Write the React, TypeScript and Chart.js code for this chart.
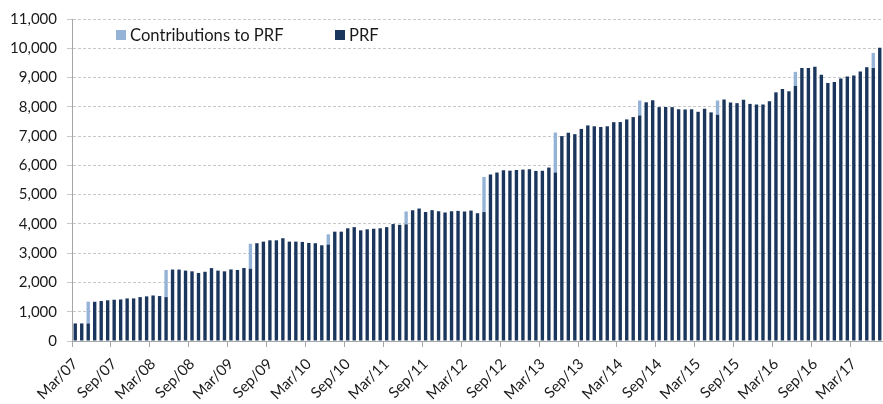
import React, { useEffect, useRef } from "react";
import { Chart, registerables } from "chart.js";

Chart.register(...registerables);

const MONTH_NAMES = ["Jan", "Feb", "Mar", "Apr", "May", "Jun", "Jul", "Aug", "Sep", "Oct", "Nov", "Dec"];
const START_MONTH = 2; // March
const START_YEAR = 7; // 2007
const MONTH_COUNT = 125; // Mar/07 .. Jul/17

const categories: string[] = [];
for (let i = 0; i < MONTH_COUNT; i++) {
  const m = (START_MONTH + i) % 12;
  const y = START_YEAR + Math.floor((START_MONTH + i) / 12);
  categories.push(`${MONTH_NAMES[m]}/${String(y).padStart(2, "0")}`);
}

const tickLabels = [
  "Mar/07", "Sep/07", "Mar/08", "Sep/08", "Mar/09", "Sep/09", "Mar/10", "Sep/10",
  "Mar/11", "Sep/11", "Mar/12", "Sep/12", "Mar/13", "Sep/13", "Mar/14", "Sep/14",
  "Mar/15", "Sep/15", "Mar/16", "Sep/16", "Mar/17",
];

const yTickLabels = ["0", "1,000", "2,000", "3,000", "4,000", "5,000", "6,000", "7,000", "8,000", "9,000", "10,000", "11,000"];

// PRF (US$ m), monthly
const prf = [
  600, 600, 600, 1340, 1365, 1390, 1410, 1420, 1455, 1455, 1500, 1525,
  1555, 1535, 1500, 2440, 2440, 2405, 2380, 2325, 2365, 2490, 2405, 2380,
  2445, 2425, 2495, 2470, 3340, 3395, 3440, 3440, 3510, 3395, 3395, 3385,
  3350, 3340, 3270, 3295, 3735, 3735, 3850, 3890, 3780, 3815, 3835, 3850,
  3890, 3995, 3970, 3985, 4470, 4525, 4410, 4470, 4435, 4390, 4435, 4445,
  4425, 4455, 4365, 4405, 5685, 5755, 5830, 5820, 5845, 5855, 5865, 5810,
  5820, 5925, 5755, 7000, 7115, 7065, 7245, 7365, 7335, 7310, 7335, 7475,
  7480, 7570, 7650, 7705, 8155, 8225, 7990, 7990, 7990, 7920, 7910, 7920,
  7830, 7930, 7810, 7730, 8250, 8145, 8125, 8245, 8100, 8080, 8080, 8190,
  8495, 8610, 8530, 8710, 9330, 9330, 9365, 9095, 8810, 8845, 8970, 9035,
  9070, 9205, 9355, 9330, 10020,
];

// Contributions to PRF, stacked on top in the contribution month
const contributions = [
  0, 0, 745, 0, 0, 0, 0, 0, 0, 0, 0, 0,
  0, 0, 925, 0, 0, 0, 0, 0, 0, 0, 0, 0,
  0, 0, 0, 850, 0, 0, 0, 0, 0, 0, 0, 0,
  0, 0, 0, 350, 0, 0, 0, 0, 0, 0, 0, 0,
  0, 0, 0, 440, 0, 0, 0, 0, 0, 0, 0, 0,
  0, 0, 0, 1200, 0, 0, 0, 0, 0, 0, 0, 0,
  0, 0, 1365, 0, 0, 0, 0, 0, 0, 0, 0, 0,
  0, 0, 0, 510, 0, 0, 0, 0, 0, 0, 0, 0,
  0, 0, 0, 485, 0, 0, 0, 0, 0, 0, 0, 0,
  0, 0, 0, 485, 0, 0, 0, 0, 0, 0, 0, 0,
  0, 0, 0, 510, 0,
];

const DARK = "#1B365D";
const LIGHT = "#95B3D7";
const FONT = "Lato";

const legendPlugin = {
  id: "customLegend",
  afterDraw(chart: any) {
    const ctx = chart.ctx as CanvasRenderingContext2D;
    const items = [
      { label: "Contributions to PRF", color: LIGHT, x: 116 },
      { label: "PRF", color: DARK, x: 335 },
    ];
    ctx.save();
    ctx.font = `16.6px ${FONT}`;
    ctx.textBaseline = "middle";
    ctx.textAlign = "left";
    for (const it of items) {
      ctx.fillStyle = it.color;
      ctx.fillRect(it.x, 30, 10, 10);
      ctx.fillStyle = "#1a1a1a";
      ctx.fillText(it.label, it.x + 14, 35.5);
    }
    ctx.restore();
  },
};

export default function App() {
  const canvasRef = useRef<HTMLCanvasElement | null>(null);

  useEffect(() => {
    if (!canvasRef.current) return;
    Chart.defaults.font.family = FONT;
    const chart = new Chart(canvasRef.current, {
      type: "bar",
      data: {
        labels: categories,
        datasets: [
          {
            label: "PRF",
            data: prf,
            backgroundColor: DARK,
            barPercentage: 0.52,
            categoryPercentage: 1,
          },
          {
            label: "Contributions to PRF",
            data: contributions,
            backgroundColor: LIGHT,
            barPercentage: 0.52,
            categoryPercentage: 1,
          },
        ],
      },
      options: {
        animation: false,
        responsive: true,
        maintainAspectRatio: false,
        layout: { padding: { top: 14, right: 0, left: 0, bottom: 0 } },
        plugins: {
          legend: { display: false },
          tooltip: { enabled: false },
        },
        scales: {
          x: {
            stacked: true,
            grid: {
              display: true,
              drawOnChartArea: false,
              drawTicks: true,
              tickLength: 6,
              offset: true,
              color: (c: any) => (c.index % 6 === 0 ? "#A6A6A6" : "rgba(0,0,0,0)"),
            },
            border: { display: true, color: "#A6A6A6", width: 1 },
            ticks: {
              autoSkip: false,
              maxRotation: 45,
              minRotation: 45,
              padding: 8,
              color: "#1a1a1a",
              font: { family: FONT, size: 15 },
              callback: (_v: any, i: number) => (i % 6 === 0 ? tickLabels[i / 6] : ""),
            },
            afterFit: (s: any) => {
              s.height = 63;
              s.paddingRight = 0;
              s.paddingLeft = 0;
            },
          },
          y: {
            stacked: true,
            min: 0,
            max: 11000,
            grid: { color: "#C8C8C8", tickLength: 5, lineWidth: 1 },
            border: { display: true, color: "#A6A6A6", width: 1, dash: [3, 2] },
            ticks: {
              stepSize: 1000,
              padding: 10,
              color: "#1a1a1a",
              font: { family: FONT, size: 15 },
              callback: (_v: any, i: number) => yTickLabels[i],
            },
            afterFit: (s: any) => {
              s.width = 72;
            },
          },
        },
      },
      plugins: [legendPlugin],
    });
    return () => chart.destroy();
  }, []);

  return (
    <div style={{ position: "fixed", left: 0, top: 0, width: 883, height: 404 }}>
      <canvas ref={canvasRef} />
    </div>
  );
}
